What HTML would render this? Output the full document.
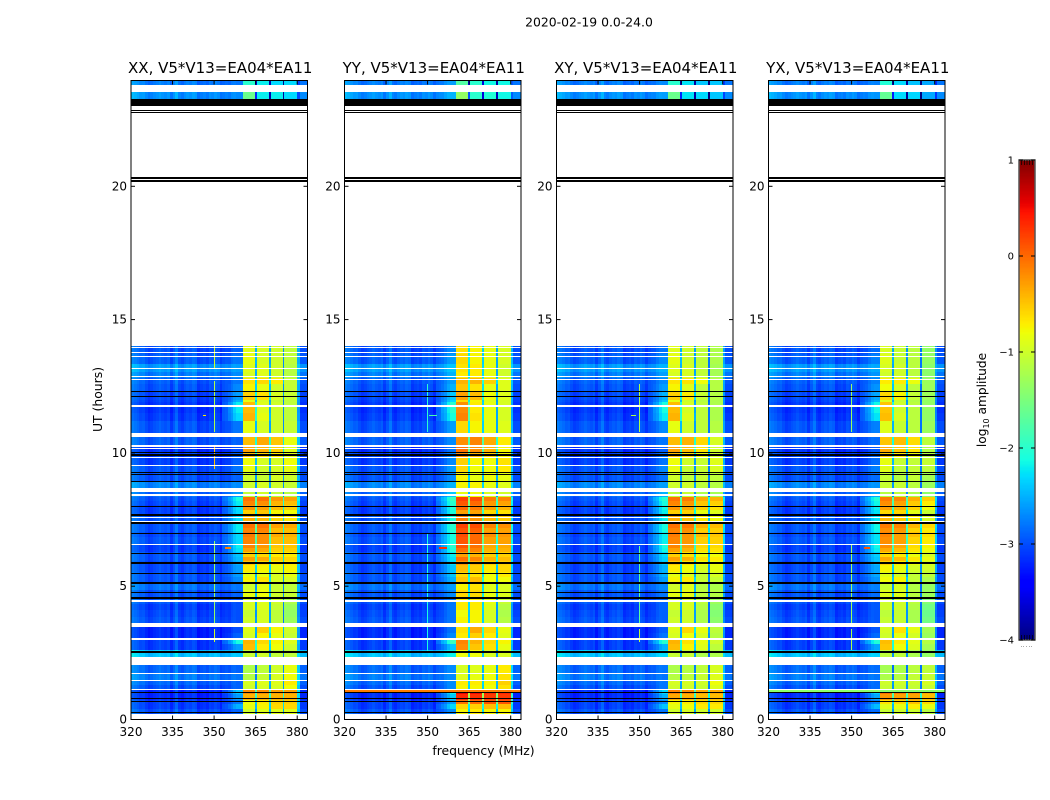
<!DOCTYPE html>
<html>
<head>
<meta charset="utf-8">
<title>2020-02-19 amplitude waterfall</title>
<style>
html,body{margin:0;padding:0;background:#fff;}
svg{display:block;}
text{font-family:"DejaVu Sans","Liberation Sans",sans-serif;fill:#000;}
</style>
</head>
<body>
<svg id="chart" xmlns="http://www.w3.org/2000/svg" width="1050" height="800" viewBox="0 0 1050 800">
  <text x="589" y="26.5" font-size="12.4" text-anchor="middle">2020-02-19 0.0-24.0</text>
  <text x="483.5" y="755" font-size="12.4" text-anchor="middle">frequency (MHz)</text>
  <text x="102" y="399.5" font-size="12.4" text-anchor="middle" transform="rotate(-90 102 399.5)">UT (hours)</text>
  <text x="986" y="400" font-size="12.2" text-anchor="middle" transform="rotate(-90 986 400)">log<tspan font-size="8" dy="3">10</tspan><tspan dy="-3"> amplitude</tspan></text>
</svg>
<script>
// Panels
const panelNames = ['XX', 'YY', 'XY', 'YX'];
const panelTitles = ['XX, V5*V13=EA04*EA11', 'YY, V5*V13=EA04*EA11', 'XY, V5*V13=EA04*EA11', 'YX, V5*V13=EA04*EA11'];

// Axis ticks
const freqTicks = [320, 335, 350, 365, 380];
const timeTicks = [0, 5, 10, 15, 20];
const colorTicks = [1, 0, -1, -2, -3, -4];

// Time rows (hours) and log10 amplitude per row. null = no data.
const rowEdges = [0,0.2,0.4,0.6,0.75,0.95,1.1,1.3,1.5,1.75,2.05,2.35,2.6,2.85,3.05,3.25,3.6,3.85,4.1,4.35,4.6,4.85,5.1,5.35,5.55,5.8,5.95,6.1,6.28,6.42,6.6,6.85,7.03,7.2,7.43,7.7,7.85,8.04,8.2,8.35,8.7,8.95,9.25,9.5,9.8,10.05,10.3,10.75,11.2,11.5,11.9,12,12.3,12.6,12.8,13.05,13.35,13.7,14,23.28,23.55,23.8,24];
const backgroundLevel = [null,-3,-3.1,-3.1,-3.2,-3.2,-3,-2.9,-2.8,-2.9,null,-2.45,-3.1,-3.1,-3.2,-3.2,-3,-3.05,-3.1,-3,-3,-2.85,-3,-3,-3.05,-3.05,-3,-3,-3.1,-3.1,-3,-3.05,-3,-3,-3,-3.1,-3.1,-3.05,-3,-2.9,-2.75,-3,-3,-3.1,-3.1,-3.15,-2.95,-3,-3.1,-3.15,-3.1,-3.05,-3,-2.95,-2.8,-2.65,-2.95,-3,null,-2.7,null,-2.8];
const shoulderLevel = [null,-2.9,-2.5,-2.8,-2.6,-2.4,-2.9,-2.9,-2.9,-2.9,null,-2.4,-2.6,-2.1,-2.9,-3,-3,-3,-3,-3,-2.9,-2.8,-2.7,-2.6,-2.6,-2.5,-2.45,-2.4,-2.25,-2.2,-2.3,-2.3,-2.2,-2.2,-2.3,-2.3,-2.25,-2.2,-2.1,-2.6,-2.7,-2.9,-2.8,-2.9,-2.9,-3,-2.9,-2.8,-2.3,-2.2,-2.5,-2.6,-2.7,-2.8,-2.7,-2.6,-2.8,-2.9,null,-2.7,null,-2.8];
const channel1Level = [null,-1,-0.85,-0.8,-0.4,-0.2,-1,-0.95,-1.15,-1.2,null,-1.05,-0.45,-0.4,-0.95,-0.9,-1,-1.05,-0.95,-0.95,-0.85,-1,-0.75,-0.85,-0.7,-0.5,-0.3,-0.55,-0.3,-0.15,-0.15,-0.1,-0.15,-0.05,-0.4,-0.55,-0.25,-0.15,-0.05,-1.1,-1,-1,-0.85,-0.8,-0.45,-0.3,-0.45,-0.85,-0.4,-0.45,-0.85,-0.55,-0.75,-0.65,-0.95,-0.9,-0.85,-0.9,null,-1.6,null,-2];
const channel2Level = [null,-0.9,-0.75,-0.7,-0.4,-0.2,-0.95,-0.9,-1.05,-1.1,null,-1,-0.7,-0.6,-0.75,-0.55,-0.95,-0.95,-0.9,-0.9,-0.8,-0.85,-0.65,-0.85,-0.75,-0.6,-0.35,-0.6,-0.35,-0.25,-0.2,-0.2,-0.15,-0.05,-0.45,-0.5,-0.3,-0.2,-0.05,-1,-0.95,-1.05,-1,-0.95,-0.6,-0.4,-0.35,-0.95,-0.85,-0.9,-0.95,-0.65,-0.85,-0.6,-0.9,-0.9,-0.95,-0.95,null,-2.2,null,-2.2];
const channel3Level = [null,-0.9,-0.6,-0.55,-0.4,-0.3,-0.95,-0.9,-0.95,-1,null,-1.1,-0.8,-0.75,-0.85,-0.75,-1.1,-1.1,-1.05,-1,-1,-1.05,-0.95,-0.95,-0.85,-0.7,-0.55,-0.7,-0.55,-0.5,-0.45,-0.35,-0.45,-0.3,-0.6,-0.75,-0.45,-0.4,-0.25,-1.1,-1,-0.95,-0.95,-0.95,-0.7,-0.55,-0.5,-1,-1,-1,-1.05,-0.95,-1,-0.7,-1,-1,-1,-1,null,-2.2,null,-2.3];
const channel4Level = [null,-0.9,-0.6,-0.55,-0.4,-0.3,-0.8,-0.7,-0.8,-0.85,null,-1.1,-1,-0.9,-1.05,-1,-1.3,-1.35,-1.3,-1.2,-1.05,-1.1,-0.95,-0.85,-0.75,-0.7,-0.6,-0.7,-0.55,-0.5,-0.45,-0.4,-0.45,-0.35,-0.7,-0.8,-0.55,-0.45,-0.3,-1.15,-1.05,-1,-0.85,-0.8,-0.9,-0.9,-0.85,-1.05,-1.1,-1.1,-1.1,-1.05,-1.05,-1.05,-1.15,-1.15,-1.1,-1.1,null,-2.3,null,-2.3];

// Background structure across frequency, 320 to 358 MHz in 1 MHz bins (log10 offset).
const backgroundFreqOffset = [0.25,0.2,0.15,0.08,0.1,0,-0.08,-0.04,0.02,0.06,0.12,0.06,0.02,0.08,-0.1,0.05,0.22,-0.02,-0.08,0.02,0.08,0.04,0.12,0.08,-0.12,-0.06,-0.02,-0.08,0.04,0,0.08,0.02,-0.12,-0.08,-0.04,-0.08,0.02,0.04];

// Per-panel adjustments, same order as panelNames.
const channel1Offset = [0, 0.25, 0, -0.05];
const channel2Offset = [0, 0.2, -0.05, -0.1];
const channel3Offset = [0, 0.15, -0.1, -0.12];
const channel4Offset = [0, 0.15, -0.1, -0.25];
const shoulderOffset = [0, 0.2, 0.1, 0.05];
const earlyRowBoost = [0, 0.5, 0.05, 0.2];

// No-data and flagged time spans (hours) shared by all panels.
const whiteSpans = [[13.94,13.98],[13.75,13.79],[13.61,13.65],[13.16,13.2],[12.83,12.87],[12.75,12.79],[11.74,11.78],[10.6,10.74],[10.24,10.28],[10.13,10.17],[9.79,9.83],[9.49,9.53],[8.53,8.68],[8.4,8.44],[7.55,7.6],[7.39,7.43],[6.56,6.6],[4.41,4.48],[3.47,3.62],[3,3.04],[1.72,1.76],[1.46,1.5],[1.12,1.16]];
const blackSpans = [[23.02,23.28],[22.83,22.87],[22.75,22.79],[20.27,20.35],[20.16,20.24],[12.3,12.34],[12.08,12.12],[9.98,10.02],[9.9,9.94],[9.23,9.27],[9.16,9.2],[8.89,8.93],[7.98,8.02],[7.63,7.72],[7.35,7.39],[6.96,7.01],[6.22,6.26],[5.85,5.89],[5.44,5.48],[5.1,5.14],[4.73,4.77],[4.52,4.6],[2.49,2.56],[1.01,1.05],[0.77,0.81],[0.64,0.68],[0.26,0.3]];

// Narrow interference spur at 350 MHz: [panel index, start h, end h, level].
const spurPanels = [0,0,0,0,0,1,1,1,2,2,2,3,3,3];
const spurStart = [2.9,3.6,9.4,10.8,13.2,2.5,10.8,3.6,2.9,3.6,10.8,2.6,3.6,10.8];
const spurEnd = [3.4,6.7,10.3,12.7,14,7,12.6,6.6,3.4,6.5,12.6,3.4,6.6,12.6];
const spurLevel = [-1,-1.35,-0.5,-1.2,-1,-2.1,-2,-2.1,-1.1,-1.7,-1.2,-1.2,-1.3,-1.3];

// Short bright features: panel, freq start/end (MHz), time start/end (h), level.
const dashPanels = [0,0,1,1,2,3];
const dashFreqStart = [346,354,354,350.5,347,354.5];
const dashFreqEnd = [347.2,356,357,353.5,348.6,356.5];
const dashTimeStart = [11.37,6.4,6.4,11.37,11.37,6.4];
const dashTimeEnd = [11.43,6.46,6.46,11.43,11.43,6.46];
const dashLevel = [-0.7,-0.1,0.3,-1.8,-1.2,0.1];

// Time stripes crossing the whole band: panel, start h, end h, level.
const stripePanels = [1,1,3];
const stripeStart = [1.03,1.09,1.04];
const stripeEnd = [1.09,1.14,1.1];
const stripeLevel = [-0.1,-0.9,-1.4];

// Layout (not data)
const axesLeft = [131, 344.5, 556.5, 768.5];
const axesWidth = 176.5;
const axesTop = 80.5, y0px = 719.5, pxPerHour = 26.66, pxPerMHz = 2.77;
const barLeft = 1019, barTop = 160, barHeight = 480, barWidth = 16;

const svg = document.getElementById('chart');
const NS = 'http://www.w3.org/2000/svg';

function jetChannel(x, pts) {
  for (let i = 1; i < pts.length; i++) {
    if (x <= pts[i][0]) {
      const a = pts[i - 1], b = pts[i];
      return a[1] + (b[1] - a[1]) * (x - a[0]) / (b[0] - a[0]);
    }
  }
  return pts[pts.length - 1][1];
}
function jet(level) {
  const x = Math.max(0, Math.min(1, (level + 4) / 5));
  const r = jetChannel(x, [[0,0],[0.35,0],[0.66,1],[0.89,1],[1,0.5]]);
  const g = jetChannel(x, [[0,0],[0.125,0],[0.375,1],[0.64,1],[0.91,0],[1,0]]);
  const b = jetChannel(x, [[0,0.5],[0.11,1],[0.34,1],[0.65,0],[1,0]]);
  return 'rgb(' + Math.round(r * 255) + ',' + Math.round(g * 255) + ',' + Math.round(b * 255) + ')';
}
function xScale(p, f) { return axesLeft[p] + (f - 320) * pxPerMHz; }
function yScale(h) { return y0px - h * pxPerHour; }

function addRect(parent, x0, y0, x1, y1, fill) {
  const r = document.createElementNS(NS, 'rect');
  const xa = Math.round(x0), xb = Math.max(Math.round(x1), xa + 1);
  const ya = Math.round(y0), yb = Math.max(Math.round(y1), ya + 1);
  r.setAttribute('x', xa);
  r.setAttribute('y', ya);
  r.setAttribute('width', xb - xa);
  r.setAttribute('height', yb - ya);
  r.setAttribute('fill', fill);
  r.setAttribute('shape-rendering', 'crispEdges');
  parent.appendChild(r);
  return r;
}
function addLine(parent, x1, y1, x2, y2, w) {
  const l = document.createElementNS(NS, 'line');
  l.setAttribute('x1', x1);
  l.setAttribute('y1', y1);
  l.setAttribute('x2', x2);
  l.setAttribute('y2', y2);
  l.setAttribute('stroke', '#000');
  l.setAttribute('stroke-width', w || 1);
  parent.appendChild(l);
  return l;
}
function addText(parent, x, y, str, size, anchor) {
  const t = document.createElementNS(NS, 'text');
  t.setAttribute('x', x);
  t.setAttribute('y', y);
  t.setAttribute('font-size', size);
  t.setAttribute('text-anchor', anchor);
  t.textContent = str;
  parent.appendChild(t);
  return t;
}

function drawPanel(p) {
  const g = document.createElementNS(NS, 'g');
  
  
  svg.appendChild(g);

  const right = axesLeft[p] + axesWidth;
  const chOff = [channel1Offset[p], channel2Offset[p], channel3Offset[p], channel4Offset[p]];

  for (let i = 0; i < backgroundLevel.length; i++) {
    const bg = backgroundLevel[i];
    if (bg === null) continue;
    const y1 = yScale(rowEdges[i + 1]), y2 = yScale(rowEdges[i]);
    const boost = (rowEdges[i] >= 0.6 && rowEdges[i] < 1.0) ? earlyRowBoost[p] : 0;
    const ch = [channel1Level[i], channel2Level[i], channel3Level[i], channel4Level[i]].map((v, k) => v + chOff[k] + boost);
    const sh = shoulderLevel[i] + shoulderOffset[p];

    backgroundFreqOffset.forEach((off, k) => {
      const f = 320 + k;
      const mix = f >= 357 ? 0.8 : f >= 355 ? 0.55 : f >= 353 ? 0.3 : 0;
      const v = bg + off + (Math.max(sh, bg) - bg) * mix;
      const cell = addRect(g, xScale(p, f), y1, xScale(p, f + 1), y2, jet(v));
      
      
    });

    const cellsF = [[358, 360.4, Math.max(sh, bg)], [360.4, 364.7, ch[0]], [364.7, 365.4, ch[0] - 1.6], [365.4, 369.7, ch[1]], [369.7, 370.4, ch[1] - 1.6], [370.4, 374.7, ch[2]], [374.7, 375.4, ch[2] - 1.7], [375.4, 380, ch[3]], [380, 381, (ch[3] + bg) / 2 - 0.5], [381, 384, bg]];
    cellsF.forEach(c => {
      const cell = addRect(g, xScale(p, c[0]), y1, Math.min(xScale(p, c[1]), right), y2, jet(c[2]));
      
      
    });
  }

  spurPanels.forEach((sp, k) => {
    if (sp !== p) return;
    const r = addRect(g, xScale(p, 349.9), yScale(spurEnd[k]), xScale(p, 350.25), yScale(spurStart[k]), jet(spurLevel[k]));
    
    
  });
  dashPanels.forEach((dp, k) => {
    if (dp !== p) return;
    const r = addRect(g, xScale(p, dashFreqStart[k]), yScale(dashTimeEnd[k]), xScale(p, dashFreqEnd[k]), yScale(dashTimeStart[k]), jet(dashLevel[k]));
    
    
  });
  stripePanels.forEach((sp, k) => {
    if (sp !== p) return;
    const r = addRect(g, xScale(p, 320), yScale(stripeEnd[k]), right, yScale(stripeStart[k]), jet(stripeLevel[k]));
    
    
  });

  whiteSpans.forEach(s => {
    const r = addRect(g, axesLeft[p], yScale(s[1]), right, yScale(s[0]), '#fff');
    
    
  });
  blackSpans.forEach(s => {
    const r = addRect(g, axesLeft[p], yScale(s[1]), right, yScale(s[0]), '#000');
    
    
  });

  // frame
  const frame = document.createElementNS(NS, 'rect');
  frame.setAttribute('x', axesLeft[p]);
  frame.setAttribute('y', axesTop);
  frame.setAttribute('width', axesWidth);
  frame.setAttribute('height', y0px - axesTop);
  frame.setAttribute('fill', 'none');
  frame.setAttribute('stroke', '#000');
  frame.setAttribute('stroke-width', '1');
  
  
  g.appendChild(frame);

  const title = addText(g, axesLeft[p] + axesWidth / 2 + 1, 73, panelTitles[p], 15, 'middle');
  
  

  freqTicks.forEach(f => {
    const x = xScale(p, f);
    const t1 = addLine(g, x, y0px, x, y0px - 4);
    
    
    const t2 = addLine(g, x, axesTop, x, axesTop + 4);
    
    
    const lab = addText(g, x, 736, String(f), 12, 'middle');
    
    
  });
  timeTicks.forEach(h => {
    const y = yScale(h);
    const t1 = addLine(g, axesLeft[p], y, axesLeft[p] + 4, y);
    
    
    const t2 = addLine(g, right - 4, y, right, y);
    
    
    const lab = addText(g, axesLeft[p] - 4, y + 4, String(h), 12, 'end');
    
    
  });
}
panelNames.forEach((n, p) => drawPanel(p));

function levelY(v) { return barTop + (1 - v) / 5 * barHeight; }
(function drawColorbar() {
  const g = document.createElementNS(NS, 'g');
  
  
  svg.appendChild(g);
  for (let v = -4; v < 1; v += 0.0125) {
    const seg = addRect(g, barLeft, levelY(v + 0.0125), barLeft + barWidth, levelY(v), jet(v + 0.00625));
    
    
  }
  const frame = document.createElementNS(NS, 'rect');
  frame.setAttribute('x', barLeft);
  frame.setAttribute('y', barTop);
  frame.setAttribute('width', barWidth);
  frame.setAttribute('height', barHeight);
  frame.setAttribute('fill', 'none');
  frame.setAttribute('stroke', '#555');
  frame.setAttribute('stroke-width', '1.5');
  
  
  g.appendChild(frame);
  colorTicks.forEach(v => {
    const y = levelY(v);
    const t1 = addLine(g, barLeft, y, barLeft + 4, y);
    
    
    const t2 = addLine(g, barLeft + barWidth - 4, y, barLeft + barWidth, y);
    
    
    const str = v < 0 ? '\u2212' + Math.abs(v) : String(v);
    const lab = addText(g, barLeft - 5, y + 3.5, str, 10, 'end');
    
    
  });
  for (let k = 1; k <= 5; k++) {
    const x = barLeft + k * barWidth / 6;
    const a = addLine(g, x, barTop, x, barTop + 5, 0.7);
    
    
    const b = addLine(g, x, barTop + barHeight - 5, x, barTop + barHeight, 0.7);
    
    
    const d = addRect(g, x - 1, 646, x, 647, '#aaa');
    
    
  }
})();
</script>
</body>
</html>
